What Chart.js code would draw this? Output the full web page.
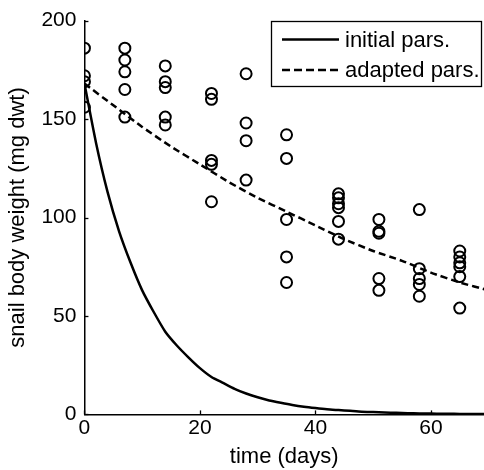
<!DOCTYPE html>
<html>
<head>
<meta charset="utf-8">
<script src="https://cdn.jsdelivr.net/npm/chart.js@4/dist/chart.umd.min.js"></script>
<style>
html,body{margin:0;padding:0;background:#fff;}
#c{display:block;}
</style>
</head>
<body>
<canvas id="c" width="484" height="470"></canvas>
<script>
// Observed snail body weights (mg dwt), grouped by sampling day
const obsDays = [
  0,0,0,0,
  7,7,7,7,7,
  14,14,14,14,14,
  22,22,22,22,22,
  28,28,28,28,
  35,35,35,35,35,
  44,44,44,44,44,44,
  51,51,51,51,51,
  58,58,58,58,58,
  65,65,65,65,65,65
];
const obsWeights = [
  186,172,169,156,
  186,180,174,165,151,
  177,169,166,151,147,
  163,160,129,127,108,
  173,148,139,119,
  142,130,99,80,67,
  112,110,107,105,98,89,
  99,93,92,69,63,
  104,74,69,66,60,
  83,80,77,75,70,54
];

// Model curve: initial parameters
const initDays = [0,2,4,6,8,10,12,14,16,18,20,22,24,26,28,30,32,34,36,38,40,42,44,46,48,50,52,54,56,58,60,62,64,66,68,70];
const initWeights = [168,138,113,93,77,63,52,42,35,29,23.5,19,16,13,10.6,8.7,7.1,5.9,4.8,3.9,3.2,2.6,2.2,1.8,1.4,1.2,1.0,0.8,0.6,0.5,0.4,0.3,0.3,0.2,0.2,0.2];

// Model curve: adapted parameters
const adaptDays = [0,5,10,15,20,25,30,35,40,45,50,55,60,65,70];
const adaptWeights = [168,157,146,136,127,118,110,103,96,89,83,78,72,67,63];

// Axis ticks
const xTicks = [0,20,40,60];
const yTicks = [0,50,100,150,200];

const seriesLabels = ['initial pars.','adapted pars.'];

const toXY = (xs, ys) => xs.map((x,i)=>({x:x, y:ys[i]}));

const FONT = '"Liberation Sans", Arial, sans-serif';

const inwardTicks = {
  id:'inwardTicks',
  afterDraw(chart){
    const ctx = chart.ctx;
    const xs = chart.scales.x, ys = chart.scales.y;
    const area = chart.chartArea;
    ctx.save();
    ctx.strokeStyle = '#000';
    ctx.lineWidth = 1.3;
    xTicks.forEach(v=>{
      const px = Math.round(xs.getPixelForValue(v))+0.5;
      ctx.beginPath(); ctx.moveTo(px, area.bottom); ctx.lineTo(px, area.bottom-4); ctx.stroke();
    });
    yTicks.forEach(v=>{
      const py = Math.round(ys.getPixelForValue(v))+0.5;
      ctx.beginPath(); ctx.moveTo(area.left, py); ctx.lineTo(area.left+4, py); ctx.stroke();
    });
    ctx.restore();
  }
};

const boxLegend = {
  id:'boxLegend',
  afterDraw(chart){
    const ctx = chart.ctx;
    const ds = chart.data.datasets;
    const left = 271, top = 21, right = 481, bottom = 86;
    ctx.save();
    ctx.fillStyle = '#fff';
    ctx.fillRect(left, top, right-left, bottom-top);
    ctx.strokeStyle = '#000';
    ctx.lineWidth = 1.3;
    ctx.setLineDash([]);
    ctx.strokeRect(left+0.5, top+0.5, right-left, bottom-top);
    const rows = [ds[1], ds[2]];
    const ys = [39.5, 70];
    rows.forEach((d,i)=>{
      ctx.beginPath();
      ctx.setLineDash(d.borderDash ? [8,4] : []);
      ctx.lineWidth = d.borderWidth;
      ctx.strokeStyle = d.borderColor;
      ctx.moveTo(282, ys[i]); ctx.lineTo(339, ys[i]); ctx.stroke();
      ctx.setLineDash([]);
      ctx.fillStyle = '#000';
      ctx.font = '22px ' + FONT;
      ctx.textBaseline = 'middle';
      ctx.textAlign = 'left';
      ctx.fillText(d.label, 345, ys[i]+1);
    });
    ctx.restore();
  }
};

new Chart(document.getElementById('c'), {
  type:'scatter',
  data:{
    datasets:[
      {
        label:'observed',
        data: toXY(obsDays, obsWeights),
        showLine:false,
        pointStyle:'circle',
        pointRadius:5.5,
        pointBorderWidth:2,
        pointBackgroundColor:'rgba(255,255,255,0)',
        pointBorderColor:'#000',
        order:3
      },
      {
        label: seriesLabels[0],
        type:'line',
        data: toXY(initDays, initWeights),
        borderColor:'#000',
        borderWidth:2.5,
        pointRadius:0,
        tension:0.2,
        fill:false,
        order:1
      },
      {
        label: seriesLabels[1],
        type:'line',
        data: toXY(adaptDays, adaptWeights),
        borderColor:'#000',
        borderWidth:2.5,
        borderDash:[7,4],
        pointRadius:0,
        tension:0.2,
        fill:false,
        order:2
      }
    ]
  },
  options:{
    responsive:false,
    animation:false,
    devicePixelRatio:1,
    layout:{autoPadding:false, padding:{left:5, right:0, top:20, bottom:0}},
    plugins:{
      legend:{display:false},
      tooltip:{enabled:false}
    },
    scales:{
      x:{
        type:'linear',
        min:0, max:69.2,
        grid:{display:false, drawTicks:false},
        border:{display:true, color:'#000', width:1.5},
        afterBuildTicks: s => { s.ticks = xTicks.map(v=>({value:v})); },
        ticks:{color:'#000', font:{family:FONT, size:21}, padding:1, maxRotation:0},
        title:{display:true, text:'time (days)', color:'#000', font:{family:FONT, size:22}, padding:{top:2,bottom:0}}
      },
      y:{
        type:'linear',
        min:0, max:200,
        grid:{display:false, drawTicks:false},
        border:{display:true, color:'#000', width:1.5},
        afterBuildTicks: s => { s.ticks = yTicks.map(v=>({value:v})); },
        ticks:{color:'#000', font:{family:FONT, size:21}, padding:8},
        title:{display:true, text:'snail body weight (mg dwt)', color:'#000', font:{family:FONT, size:22}, padding:{top:0,bottom:2}}
      }
    }
  },
  plugins:[inwardTicks, boxLegend]
});
</script>
</body>
</html>
